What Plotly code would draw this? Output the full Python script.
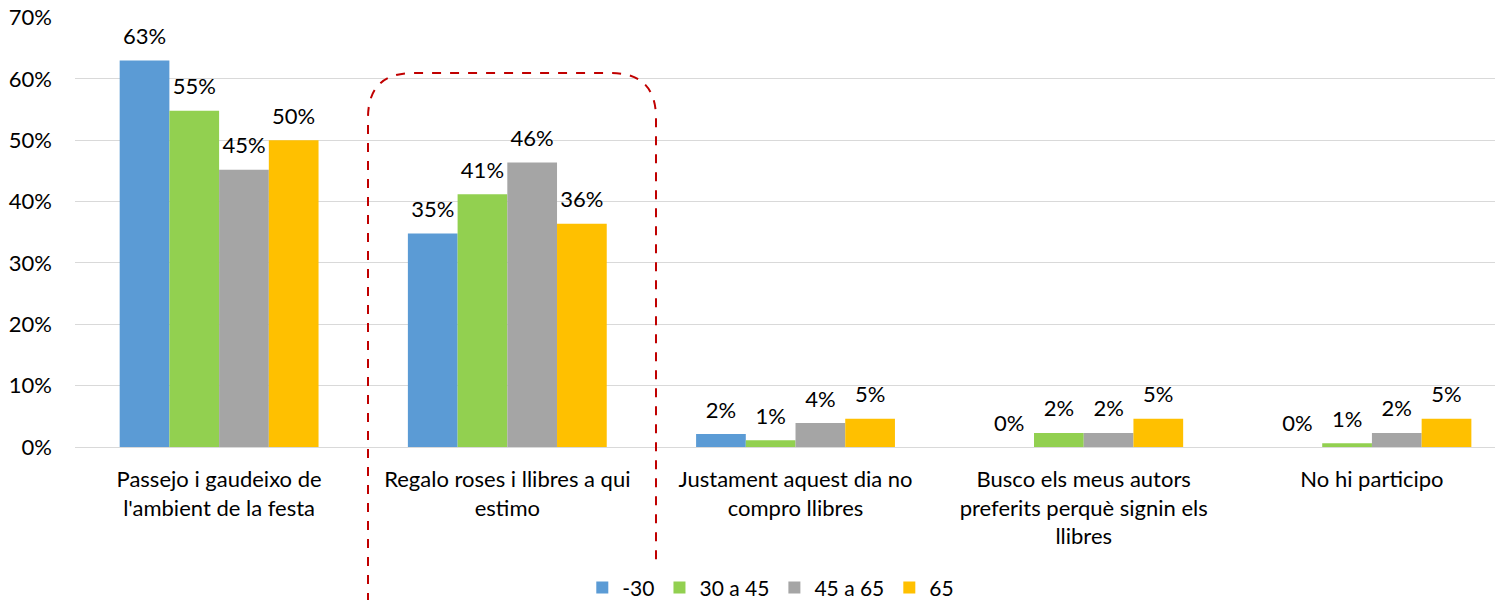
import plotly.graph_objects as go

categories = [
    "Passejo i gaudeixo de<br>l'ambient de la festa",
    "Regalo roses i llibres a qui<br>estimo",
    "Justament aquest dia no<br>compro llibres",
    "Busco els meus autors<br>preferits perquè signin els<br>llibres",
    "No hi participo",
]
series_names = ["-30", "30 a 45", "45 a 65", "65"]
values_m30 = [63.0, 34.8, 2.1, 0.0, 0.0]
values_30_45 = [54.8, 41.2, 1.1, 2.3, 0.6]
values_45_65 = [45.2, 46.4, 3.9, 2.3, 2.3]
values_65 = [50.0, 36.4, 4.6, 4.6, 4.6]
colors = ["#5B9BD5", "#92D050", "#A5A5A5", "#FFC000"]
y_ticks = [0, 10, 20, 30, 40, 50, 60, 70]

FONT = "Lato"
FS = 22
fig = go.Figure()
all_vals = [values_m30, values_30_45, values_45_65, values_65]
for i, (name, vals, col) in enumerate(zip(series_names, all_vals, colors)):
    fig.add_trace(go.Bar(
        x=categories, y=vals, name=name, marker_color=col,
        marker_line_width=0, offsetgroup=str(i), alignmentgroup="a",
    ))
for i, vals in enumerate(all_vals):
    fig.add_trace(go.Scatter(
        x=categories, y=vals, mode="markers+text", showlegend=False,
        offsetgroup=str(i), alignmentgroup="a",
        marker=dict(size=16, opacity=0),
        text=[f"{round(v):.0f}%" for v in vals],
        textposition="top center", cliponaxis=False, hoverinfo="skip",
        textfont=dict(family=FONT, size=FS, color="#000000"),
    ))

# dashed highlight box (paper coordinates; plot area spans 1420 x 430 px)
W, H = 1420.0, 430.0
x0 = (368 - 75) / W
x1 = (656 - 75) / W
yt = (447 - 73) / H
yb = (447 - 620) / H
rx = 45 / W
ry = 45 / H
path = (f"M {x0} {yb} L {x0} {yt - ry} Q {x0} {yt} {x0 + rx} {yt} "
        f"L {x1 - rx} {yt} Q {x1} {yt} {x1} {yt - ry} L {x1} {yb}")
fig.add_shape(type="path", path=path, xref="paper", yref="paper",
              line=dict(color="#C00000", width=2, dash="dash"))

fig.update_layout(
    width=1497, height=600,
    margin=dict(l=75, r=2, t=17, b=153, autoexpand=False),
    paper_bgcolor="white", plot_bgcolor="white",
    barmode="group", bargap=0.31, bargroupgap=0,
    scattermode="group", scattergap=0.31,
    font=dict(family=FONT, size=FS, color="#000000"),
    showlegend=True,
    legend=dict(orientation="h", x=0.49, xanchor="center", y=-0.28, yanchor="top",
                xref="paper", font=dict(family=FONT, size=21, color="#000000"),
                itemwidth=30, traceorder="normal"),
    xaxis=dict(showgrid=False, showline=False, ticks="", automargin=False,
               range=[-0.5, 4.427], ticklabelstandoff=17,
               tickfont=dict(size=FS)),
    yaxis=dict(range=[0, 70.1], tickvals=y_ticks, ticktext=[f"{t}%" for t in y_ticks],
               showgrid=True, gridcolor="#D9D9D9", gridwidth=1, zeroline=True,
               zerolinecolor="#D9D9D9", zerolinewidth=1, showline=False, ticks="",
               automargin=False, ticklabeloverflow="allow",
               tickfont=dict(size=FS), ticklabelstandoff=22),
)
fig.write_html("out.html", config={"displayModeBar": False},
               post_script="document.body.style.margin='0';document.body.style.overflow='hidden';")
